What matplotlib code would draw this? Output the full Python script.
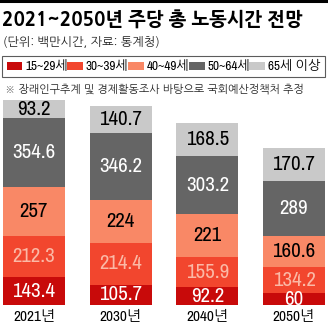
import matplotlib
matplotlib.use('Agg')
import matplotlib.pyplot as plt
import numpy as np

NUM_FONT = ['Archivo Narrow', 'NanumGothic', 'Noto Sans CJK KR', 'DejaVu Sans']
KR_FONT = ['NanumGothic', 'Noto Sans CJK KR', 'DejaVu Sans']
plt.rcParams['font.family'] = NUM_FONT

years = ['2021년', '2030년', '2040년', '2050년']
groups = ['15~29세', '30~39세', '40~49세', '50~64세', '65세 이상']
age_15_29 = [143.4, 105.7, 92.2, 60]
age_30_39 = [212.3, 214.4, 155.9, 134.2]
age_40_49 = [257, 224, 221, 160.6]
age_50_64 = [354.6, 346.2, 303.2, 289]
age_65_up = [93.2, 140.7, 168.5, 170.7]

colors = ['#C80A0A', '#F2462E', '#F98866', '#656565', '#C9C9C9']
text_colors = ['white', '#FBB9A6', 'black', 'white', 'black']

W, H = 328, 325
fig = plt.figure(figsize=(W / 100, H / 100), dpi=100)


def fx(px):
    return px / W


def fy(py):
    return 1 - py / H


# thick rule along the top edge
fig.add_artist(plt.Line2D([0, 1], [fy(1), fy(1)], color='black', lw=2.2))

fig.text(fx(2), fy(20), '2021~2050년 주당 총 노동시간 전망', fontsize=13.5, fontweight=800,
         family=KR_FONT, va='center', ha='left')
fig.text(fx(3), fy(42), '(단위: 백만시간, 자료: 통계청)', fontsize=8.8,
         family=KR_FONT, va='center', ha='left', color='#222222')
fig.text(fx(5), fy(89), '※ 장래인구추계 및 경제활동조사 바탕으로 국회예산정책처 추정', fontsize=7.9,
         family=KR_FONT, va='center', ha='left', color='#222222')

# bar area: baseline at y=305px, 2021 total reaches y=100px
ax = fig.add_axes([0, fy(305), 1, (305 - 100) / H])
series = [age_15_29, age_30_39, age_40_49, age_50_64, age_65_up]
x = np.arange(len(years))
bottom = np.zeros(len(years))
handles = []
for vals, c, tc, name in zip(series, colors, text_colors, groups):
    vals = np.array(vals, dtype=float)
    bars = ax.bar(x, vals, width=0.715, bottom=bottom, color=c, label=name)
    handles.append(bars)
    for xi, v, b in zip(x, vals, bottom):
        ax.text(xi, b + v / 2, '%g' % v, ha='center', va='center', color=tc,
                fontsize=15)
    bottom += vals

ax.set_xlim(-34 / 86.67, (W - 34) / 86.67)
ax.set_ylim(0, bottom[0])
ax.axis('off')

for xi, yr in zip(x, years):
    ax.annotate(yr, (xi, 0), xytext=(0, -8.8), textcoords='offset points',
                ha='center', va='center', fontsize=11, annotation_clip=False)

leg = fig.legend(handles=handles, labels=groups, loc='lower left',
                 bbox_to_anchor=(fx(2), fy(77), fx(323), 24 / H), mode='expand',
                 ncol=5, frameon=True, fancybox=False, edgecolor='#333333',
                 fontsize=9.5, handlelength=1.2, handleheight=0.6, handletextpad=0.2,
                 columnspacing=0.8, borderpad=0.35, borderaxespad=0)
leg.get_frame().set_linewidth(0.8)

fig.savefig('out.png', dpi=100)
